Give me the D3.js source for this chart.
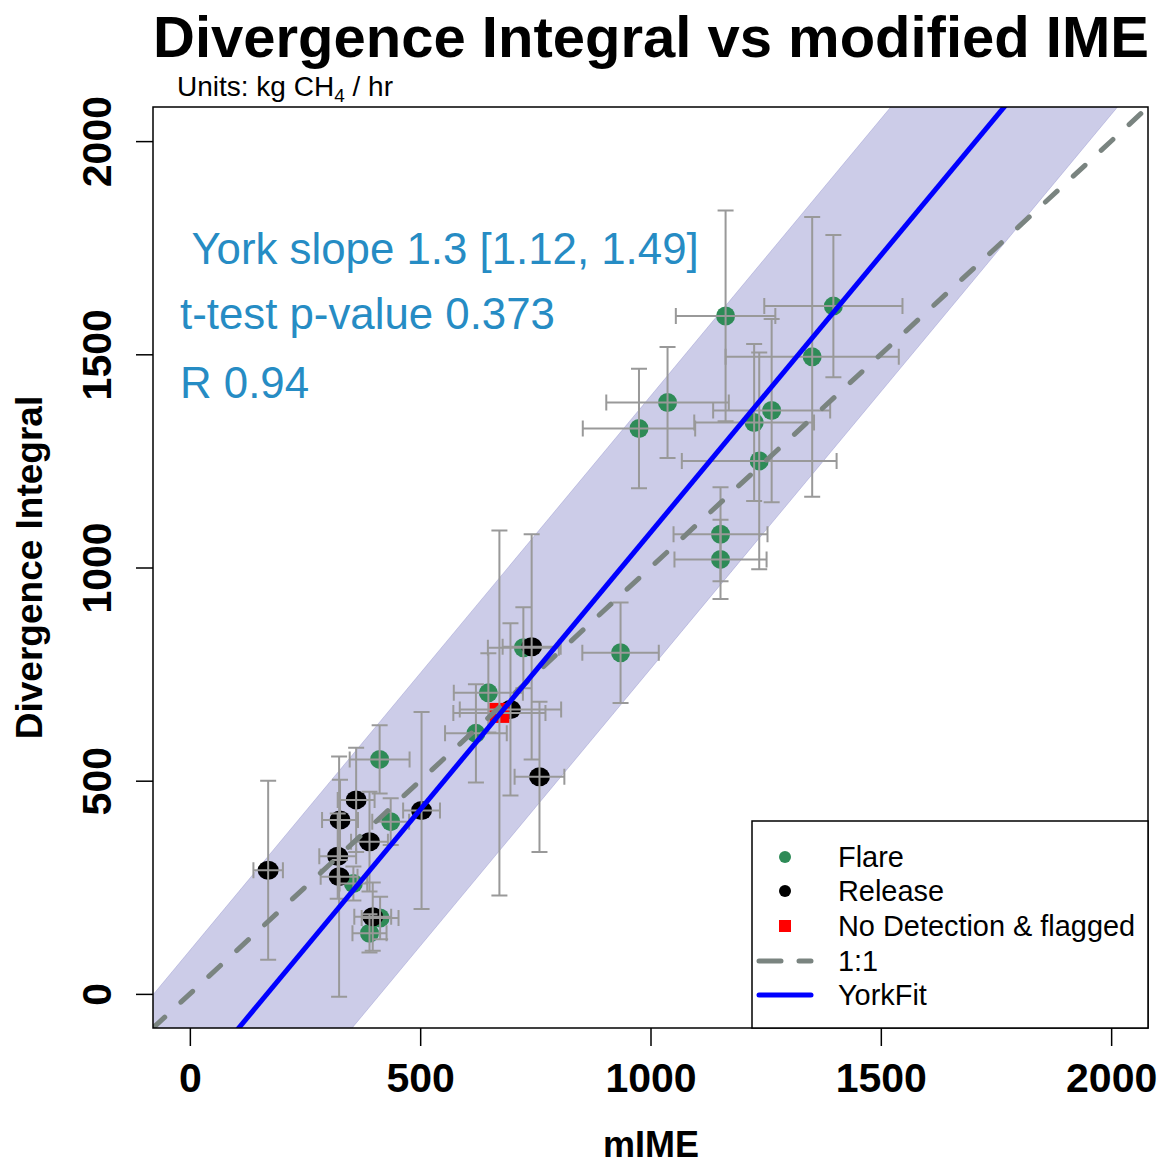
<!DOCTYPE html>
<html>
<head>
<meta charset="utf-8">
<script src="https://cdn.jsdelivr.net/npm/d3@7"></script>
<style>
  body { margin: 0; background: #fff; }
  text { font-family: "Liberation Sans", Arial, sans-serif; }
</style>
</head>
<body>
<div id="chart"></div>
<script>
// DATA (kg CH4 / hr)
var flareX    = [1163, 1397, 1351, 1037, 975, 1263, 1225, 1236, 1152, 1152, 935, 724, 648, 621, 412, 436, 355, 413, 390];
var flareY    = [1590, 1613, 1494, 1387, 1326, 1368, 1340, 1250, 1078, 1019, 800, 812, 706, 611, 550, 404, 259, 178, 142];
var flareXErr = [108, 150, 188, 133, 122, 127, 130, 168, 102, 100, 83, 77, 75, 67, 65, 40, 30, 40, 37];
var flareYErr = [247, 167, 328, 130, 140, 215, 184, 254, 110, 93, 118, 95, 93, 115, 80, 55, 40, 50, 45];

var releaseX    = [170, 361, 326, 321, 324, 390, 503, 397, 742, 696, 759];
var releaseY    = [290, 455, 408, 323, 275, 357, 430, 181, 814, 667, 509];
var releaseXErr = [32, 40, 39, 40, 40, 40, 40, 40, 63, 110, 54];
var releaseYErr = [210, 122, 94, 100, 282, 117, 231, 80, 264, 202, 176];

var flaggedX = [672], flaggedY = [659], flaggedXErr = [100], flaggedYErr = [428];

var yorkSlope = 1.3, yorkIntercept = -218, bandHalf = 320;
var ticks = [0, 500, 1000, 1500, 2000];
var annotations = [" York slope 1.3 [1.12, 1.49]", "t-test p-value 0.373", "R 0.94"];
var legendLabels = ["Flare", "Release", "No Detection & flagged", "1:1", "YorkFit"];

var W = 1162, H = 1164;
var pLeft = 153, pRight = 1148, pTop = 107, pBottom = 1028;
var lim = [-80, 2080];

var svg = d3.select("#chart").append("svg")
  .attr("width", W).attr("height", H);

var x = d3.scaleLinear().domain(lim).range([pLeft, pRight]);
var y = d3.scaleLinear().domain(lim).range([pBottom, pTop]);

svg.append("clipPath").attr("id", "clip")
  .append("rect").attr("x", pLeft).attr("y", pTop)
  .attr("width", pRight - pLeft).attr("height", pBottom - pTop);

var plot = svg.append("g").attr("clip-path", "url(#clip)");

// prediction band
var bx = [lim[0] - 500, lim[1] + 500];
var band = [
  [bx[0], yorkSlope * bx[0] + yorkIntercept + bandHalf],
  [bx[1], yorkSlope * bx[1] + yorkIntercept + bandHalf],
  [bx[1], yorkSlope * bx[1] + yorkIntercept - bandHalf],
  [bx[0], yorkSlope * bx[0] + yorkIntercept - bandHalf]
];
plot.append("path")
  .attr("d", "M" + band.map(function(p) { return x(p[0]) + "," + y(p[1]); }).join("L") + "Z")
  .attr("fill", "rgba(0,0,139,0.2)")
  .attr("stroke", "rgba(0,0,139,0.15)")
  .attr("stroke-width", 1);

function makePoints(xs, ys, xe, ye) {
  return xs.map(function(v, i) { return {x: v, y: ys[i], xe: xe[i], ye: ye[i]}; });
}
var flare = makePoints(flareX, flareY, flareXErr, flareYErr);
var release = makePoints(releaseX, releaseY, releaseXErr, releaseYErr);
var flagged = makePoints(flaggedX, flaggedY, flaggedXErr, flaggedYErr);

// points
plot.selectAll("circle.flare").data(flare).enter().append("circle")
  .attr("cx", function(d) { return x(d.x); })
  .attr("cy", function(d) { return y(d.y); })
  .attr("r", 9.5).attr("fill", "#2e8b57");

plot.selectAll("ellipse.release").data(release).enter().append("ellipse")
  .attr("cx", function(d) { return x(d.x); })
  .attr("cy", function(d) { return y(d.y); })
  .attr("rx", 10.5).attr("ry", 9.5).attr("fill", "#000");

plot.selectAll("rect.flagged").data(flagged).enter().append("rect")
  .attr("x", function(d) { return x(d.x) - 10; })
  .attr("y", function(d) { return y(d.y) - 10; })
  .attr("width", 20).attr("height", 20).attr("fill", "#ff0000");

// error bars on top of points
var all = flare.concat(release, flagged);
var cap = 8;
var eb = plot.append("g").attr("stroke", "#999").attr("stroke-width", 2).attr("fill", "none");
all.forEach(function(d) {
  var cx = x(d.x), cy = y(d.y);
  var y0 = y(d.y - d.ye), y1 = y(d.y + d.ye);
  var x0 = x(d.x - d.xe), x1 = x(d.x + d.xe);
  eb.append("path").attr("d",
    "M" + cx + "," + y0 + "V" + y1 +
    "M" + (cx - cap) + "," + y0 + "H" + (cx + cap) +
    "M" + (cx - cap) + "," + y1 + "H" + (cx + cap) +
    "M" + x0 + "," + cy + "H" + x1 +
    "M" + x0 + "," + (cy - cap) + "V" + (cy + cap) +
    "M" + x1 + "," + (cy - cap) + "V" + (cy + cap));
});

// 1:1 line
plot.append("line")
  .attr("x1", x(lim[0])).attr("y1", y(lim[0]))
  .attr("x2", x(lim[1])).attr("y2", y(lim[1]))
  .attr("stroke", "#7a8480").attr("stroke-width", 5)
  .attr("stroke-dasharray", "16 22").attr("stroke-linecap", "round");

// York fit
plot.append("line")
  .attr("x1", x(bx[0])).attr("y1", y(yorkSlope * bx[0] + yorkIntercept))
  .attr("x2", x(bx[1])).attr("y2", y(yorkSlope * bx[1] + yorkIntercept))
  .attr("stroke", "#0000ff").attr("stroke-width", 5);

// box
svg.append("rect")
  .attr("x", pLeft).attr("y", pTop)
  .attr("width", pRight - pLeft).attr("height", pBottom - pTop)
  .attr("fill", "none").attr("stroke", "#000").attr("stroke-width", 1.5);

// axes
var xAxis = svg.append("g")
  .attr("transform", "translate(0," + pBottom + ")")
  .call(d3.axisBottom(x).tickValues(ticks).tickSize(18).tickFormat(d3.format("d")));
var yAxis = svg.append("g")
  .attr("transform", "translate(" + pLeft + ",0)")
  .call(d3.axisLeft(y).tickValues(ticks).tickSize(17).tickFormat(d3.format("d")));
[xAxis, yAxis].forEach(function(a) {
  a.select(".domain").remove();
  a.selectAll(".tick line").attr("stroke", "#000").attr("stroke-width", 1.5);
  a.selectAll(".tick text")
    .attr("font-family", "'Liberation Sans', Arial, sans-serif")
    .attr("font-size", 41).attr("font-weight", "bold").attr("fill", "#000");
});
xAxis.selectAll(".tick text").attr("dy", 0).attr("y", 64);
yAxis.selectAll(".tick text")
  .attr("x", 0).attr("y", -42).attr("dy", 0)
  .attr("text-anchor", "middle")
  .attr("transform", "rotate(-90)");

// titles
svg.append("text")
  .attr("x", 651).attr("y", 57)
  .attr("text-anchor", "middle")
  .attr("font-size", 58).attr("font-weight", "bold")
  .text("Divergence Integral vs modified IME");

var sub = svg.append("text")
  .attr("x", 177).attr("y", 96)
  .attr("font-size", 28);
sub.append("tspan").text("Units: kg CH");
sub.append("tspan").attr("font-size", 19).attr("dy", 6).text("4");
sub.append("tspan").attr("dy", -6).text(" / hr");

svg.append("text")
  .attr("x", 651).attr("y", 1157)
  .attr("text-anchor", "middle")
  .attr("font-size", 36).attr("font-weight", "bold")
  .text("mIME");

svg.append("text")
  .attr("transform", "translate(42," + ((pTop + pBottom) / 2) + ")rotate(-90)")
  .attr("text-anchor", "middle")
  .attr("font-size", 37).attr("font-weight", "bold")
  .text("Divergence Integral");

// annotations
svg.selectAll("text.note").data(annotations).enter().append("text")
  .attr("class", "note")
  .attr("x", 180)
  .attr("y", function(d, i) { return [264, 329, 398][i]; })
  .attr("xml:space", "preserve")
  .style("white-space", "pre")
  .attr("font-size", 43.8).attr("fill", "#268cc4")
  .text(function(d) { return d; });

// legend
var lg = svg.append("g");
lg.append("rect")
  .attr("x", 752).attr("y", 821)
  .attr("width", pRight - 752).attr("height", pBottom - 821)
  .attr("fill", "#fff").attr("stroke", "#000").attr("stroke-width", 1.5);
var rowY = [857, 891, 926, 961, 995];
lg.selectAll("text").data(legendLabels).enter().append("text")
  .attr("x", 838).attr("y", function(d, i) { return rowY[i] + 10; })
  .attr("font-size", 28.9)
  .text(function(d) { return d; });
lg.append("circle").attr("cx", 785).attr("cy", rowY[0]).attr("r", 6).attr("fill", "#2e8b57");
lg.append("circle").attr("cx", 785).attr("cy", rowY[1]).attr("r", 6).attr("fill", "#000");
lg.append("rect").attr("x", 779).attr("y", rowY[2] - 6).attr("width", 12).attr("height", 12).attr("fill", "#ff0000");
lg.append("line").attr("x1", 759).attr("x2", 811).attr("y1", rowY[3]).attr("y2", rowY[3])
  .attr("stroke", "#7a8480").attr("stroke-width", 5)
  .attr("stroke-dasharray", "22 18").attr("stroke-linecap", "round");
lg.append("line").attr("x1", 759).attr("x2", 811).attr("y1", rowY[4]).attr("y2", rowY[4])
  .attr("stroke", "#0000ff").attr("stroke-width", 5).attr("stroke-linecap", "round");
</script>
</body>
</html>
